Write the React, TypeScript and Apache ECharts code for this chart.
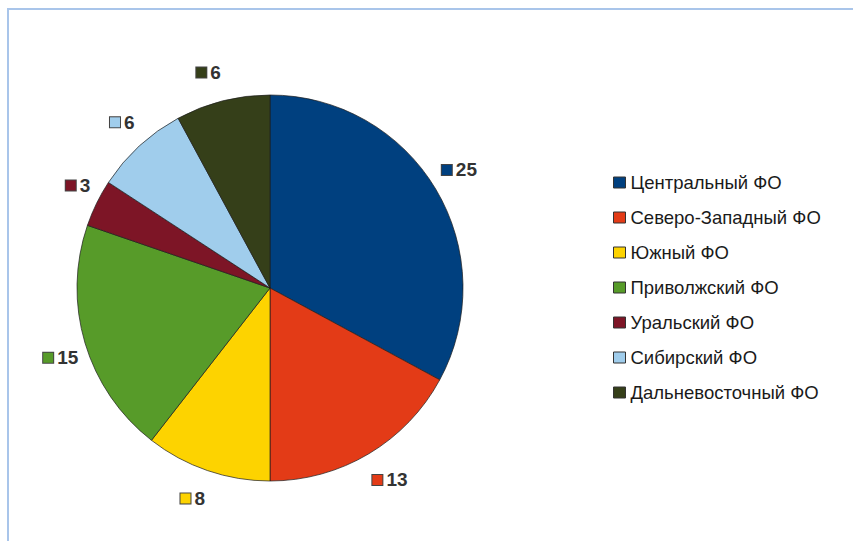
import React, { useEffect, useRef } from "react";
import * as echarts from "echarts";

const categories = [
  "Центральный ФО",
  "Северо-Западный ФО",
  "Южный ФО",
  "Приволжский ФО",
  "Уральский ФО",
  "Сибирский ФО",
  "Дальневосточный ФО",
];
const values = [25, 13, 8, 15, 3, 6, 6];
const colors = ["#00407f", "#e33b17", "#fdd300", "#579b29", "#7d1526", "#a0cdec", "#353f19"];

const CY = 288;

export default function App() {
  const ref = useRef<HTMLDivElement>(null);
  useEffect(() => {
    if (!ref.current) return;
    const chart = echarts.init(ref.current, null, { renderer: "svg" });
    const data = categories.map((name, i) => ({
      name,
      value: values[i],
      itemStyle: { color: colors[i] },
      label: {
        rich: {
          sq: {
            backgroundColor: colors[i],
            borderColor: "#444",
            borderWidth: 1,
            width: 10,
            height: 10,
          },
        },
      },
    }));
    chart.setOption({
      animation: false,
      backgroundColor: "#fff",
      color: colors,
      graphic: [
        { type: "line", shape: { x1: 8, y1: 9, x2: 853, y2: 9 }, style: { stroke: "#a9c5ea", lineWidth: 2 } },
        { type: "line", shape: { x1: 8, y1: 8, x2: 8, y2: 541 }, style: { stroke: "#a9c5ea", lineWidth: 2 } },
      ],
      legend: {
        orient: "vertical",
        left: 608,
        top: 168,
        itemWidth: 12,
        itemHeight: 11,
        itemGap: 16,
        icon: "rect",
        itemStyle: { borderColor: "#333", borderWidth: 1 },
        textStyle: { fontSize: 18.5, color: "#1a1a1a", fontFamily: "Liberation Sans, Arial, sans-serif", lineHeight: 18 },
        data: categories,
      },
      series: [
        {
          type: "pie",
          center: [270, CY],
          radius: 193,
          startAngle: 90,
          clockwise: true,
          avoidLabelOverlap: false,
          itemStyle: { borderColor: "rgba(30,30,30,0.7)", borderWidth: 1 },
          label: {
            show: true,
            position: "outside",
            distanceToLabelLine: 0,
            formatter: "{sq|}{v|{c}}",
            rich: {
              v: {
                fontSize: 19,
                fontWeight: "bold",
                color: "#333",
                fontFamily: "Liberation Sans, Arial, sans-serif",
                padding: [0, 0, 0, 4],
              },
            },
          },
          labelLine: { show: false, length: 7, length2: 0 },
          labelLayout: (params: any) => {
            const r = params.labelRect;
            const rel = r.y + r.height / 2 - CY;
            return { dy: rel * 0.065 + Math.sign(rel) * 9 };
          },
          data,
        },
      ],
    });
    return () => chart.dispose();
  }, []);
  return <div ref={ref} style={{ position: "absolute", left: 0, top: 0, width: 853, height: 541 }} />;
}
